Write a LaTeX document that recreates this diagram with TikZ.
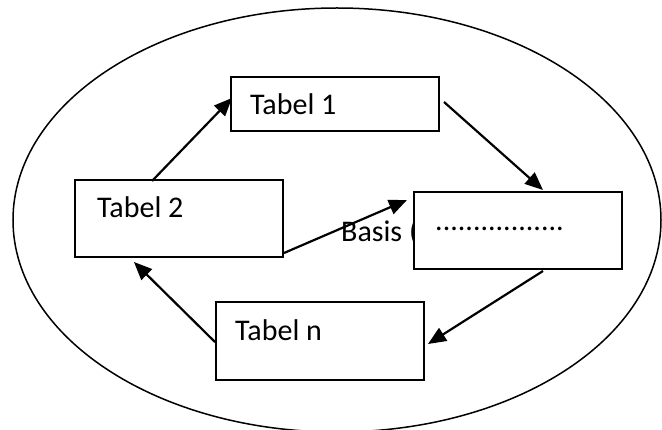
\documentclass[tikz,border=0pt]{standalone}
\usepackage{fontspec}
\setmainfont{Carlito}
\usetikzlibrary{arrows.meta,calc}

\tikzset{
  tablebox/.style={draw=black, line width=2pt, fill=white, rectangle,
    minimum width=208pt, inner sep=0pt},
  boxtext/.style={anchor=base west, inner sep=0pt, font=\fontsize{30}{36}\selectfont},
  flow/.style={line width=2.2pt, -{Triangle[length=18pt,width=15pt]}},
  frame/.style={draw=black, line width=1.5pt}
}

\begin{document}
\begin{tikzpicture}[x=1pt, y=-1pt]
  \useasboundingbox (0,0) rectangle (662,430);
  \clip (0,0) rectangle (662,430);

  % outer ellipse
  \draw[frame] (337,220) ellipse [x radius=324pt, y radius=212pt];

  % caption partly covered by the right box
  \node[boxtext] (basis) at (341,242) {Basis (};

  % tables
  \node[tablebox, minimum height=54pt] (t1) at (335,104) {};
  \node[tablebox, minimum height=77pt] (t2) at (179,218.5) {};
  \node[tablebox, minimum height=77pt] (rb) at (518,230.5) {};
  \node[tablebox, minimum height=78pt] (tn) at (320,341) {};

  \node[boxtext] (t1text) at ($(t1.north west)+(20,39)$) {Tabel 1};
  \node[boxtext] (t2text) at ($(t2.north west)+(23,39)$) {Tabel 2};
  \node[boxtext] (rbtext) at ($(rb.north west)+(22,40)$) {.................};
  \node[boxtext] (tntext) at ($(tn.north west)+(20,40)$) {Tabel n};

  % cycle of arrows
  \draw[flow] ($(t2.north west)+(78,2)$) -- ($(t1.north west)+(2,22)$);
  \draw[flow] ($(t1.north east)+(4,26)$) -- ($(rb.north west)+(130,-1)$);
  \draw[flow] ($(rb.south west)+(130,1)$) -- ($(tn.north east)+(3,43)$);
  \draw[flow] ($(tn.north west)+(0,41)$) -- ($(t2.south west)+(60,4)$);
  \draw[flow] ($(t2.south east)+(0,-5)$) -- ($(rb.north west)+(-6,9)$);
\end{tikzpicture}
\end{document}
